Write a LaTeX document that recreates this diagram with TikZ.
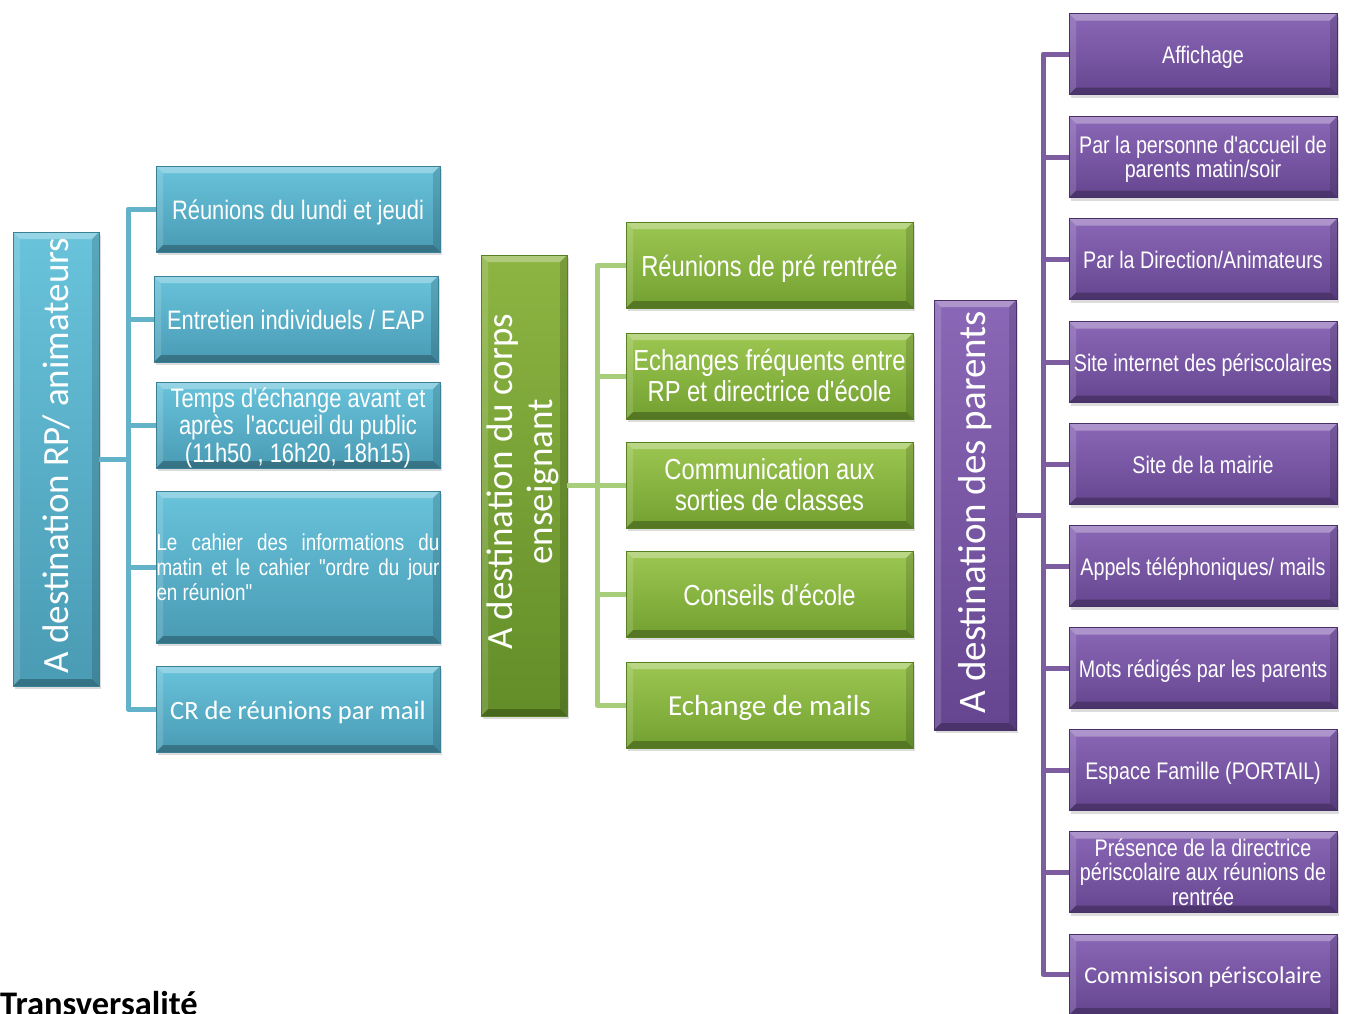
\documentclass[tikz,border=0pt]{standalone}
\usepackage{fontspec}
\setmainfont{Liberation Sans}
\newfontfamily\narfont[FakeStretch=0.82]{Liberation Sans}
\newfontfamily\calfont{Carlito}
\usetikzlibrary{shadows}
\definecolor{bT}{HTML}{68C3DB}
\definecolor{bB}{HTML}{4A9BB4}
\definecolor{bD}{HTML}{3A8097}
\definecolor{bC}{HTML}{62B2CA}
\definecolor{gT}{HTML}{9DC752}
\definecolor{gB}{HTML}{72A030}
\definecolor{gD}{HTML}{587F22}
\definecolor{gC}{HTML}{A8CE7C}
\definecolor{gmT}{HTML}{8DB543}
\definecolor{gmB}{HTML}{628D28}
\definecolor{pT}{HTML}{8B68B7}
\definecolor{pB}{HTML}{654590}
\definecolor{pD}{HTML}{4A3068}
\definecolor{pC}{HTML}{7C5EA0}
\tikzset{
  bev/.style={path picture={
    \fill[white,opacity=.30] (path picture bounding box.north west) -- (path picture bounding box.north east)
      -- ([shift={(-7pt,-7pt)}]path picture bounding box.north east) -- ([shift={(7pt,-7pt)}]path picture bounding box.north west) -- cycle;
    \fill[white,opacity=.14] (path picture bounding box.north west) -- ([shift={(7pt,-7pt)}]path picture bounding box.north west)
      -- ([shift={(7pt,7pt)}]path picture bounding box.south west) -- (path picture bounding box.south west) -- cycle;
    \fill[black,opacity=.14] (path picture bounding box.north east) -- ([shift={(-7pt,-7pt)}]path picture bounding box.north east)
      -- ([shift={(-7pt,7pt)}]path picture bounding box.south east) -- (path picture bounding box.south east) -- cycle;
    \fill[black,opacity=.26] (path picture bounding box.south west) -- (path picture bounding box.south east)
      -- ([shift={(-7pt,7pt)}]path picture bounding box.south east) -- ([shift={(7pt,7pt)}]path picture bounding box.south west) -- cycle;
  }},
  vfix/.style 2 args={execute at begin node={\rule{0pt}{#1pt}}, execute at end node={\rule[-#2pt]{0pt}{0pt}}},
  basebox/.style={rectangle, inner sep=0pt, line width=0.7pt, bev, text=white, align=center,
    drop shadow={shadow xshift=1.5pt, shadow yshift=-3pt, opacity=0.28}},
  mainbox/.style={execute at begin node={}, execute at end node={}},
  bbox/.style={basebox, top color=bT, bottom color=bB, draw=bD, minimum width=284pt, minimum height=86pt,
    font=\narfont\fontsize{26.7}{27.8}\selectfont, vfix={28}{6.9}},
  gbox/.style={basebox, top color=gT, bottom color=gB, draw=gD, minimum width=287pt, minimum height=86pt,
    font=\narfont\fontsize{29}{31}\selectfont, vfix={30}{7.2}},
  pbox/.style={basebox, top color=pT, bottom color=pB, draw=pD, minimum width=268pt, minimum height=81pt,
    font=\narfont\fontsize{24}{24.5}\selectfont, vfix={25}{5.8}},
  bcon/.style={draw=bC, line width=5pt, line join=round},
  gcon/.style={draw=gC, line width=5pt, line join=round},
  pcon/.style={draw=pC, line width=5pt, line join=round},
}
\begin{document}
\begin{tikzpicture}[x=1pt,y=-1pt]
\useasboundingbox (0,0) rectangle (1347,1013);

% ---------- blue column ----------
\node[bbox, mainbox, minimum width=86pt, minimum height=454pt] (bm) at (56,459)
  {\rotatebox{90}{\calfont\fontsize{37}{40}\selectfont A destination RP/ animateurs}};
\node[bbox] (b1) at (298,209) {Réunions du lundi et jeudi};
\node[bbox] (b2) at (296,319) {Entretien individuels / EAP};
\node[bbox, mainbox, text depth=0pt] (b3) at (298,425) {Temps d'échange avant et\\après\ \ l'accueil du public\\(11h50 , 16h20, 18h15)};
\node[bbox, mainbox, minimum height=152pt, font=\narfont\fontsize{23}{25}\selectfont] (b4) at (298,567)
  {\parbox{283pt}{\makebox[283pt][s]{Le cahier des informations du}\\\makebox[283pt][s]{matin et le cahier "ordre du jour}\\en réunion"}};
\node[bbox, font=\calfont\fontsize{26.5}{28}\selectfont, vfix={26.5}{7.5}] (b5) at (298,709) {CR de réunions par mail};
\coordinate (bt) at (128,459);
\foreach \i in {1,...,5} \draw[bcon] (bm.east) -- (bt) |- (b\i.west);

% ---------- green column ----------
\node[gbox, mainbox, top color=gmT, bottom color=gmB, minimum width=86pt, minimum height=461pt] (gm) at (524,485.5)
  {\rotatebox{90}{\calfont\fontsize{37}{40}\selectfont\begin{tabular}{@{}c@{}}A destination du corps\\enseignant\end{tabular}}};
\node[gbox] (g1) at (769.5,265) {Réunions de pré rentrée};
\node[gbox, mainbox] (g2) at (769.5,376) {\rule{0pt}{27.5pt}Echanges fréquents entre\\RP et directrice d'école};
\node[gbox, mainbox] (g3) at (769.5,485) {\rule{0pt}{27.5pt}Communication aux\\sorties de classes};
\node[gbox] (g4) at (769.5,594) {Conseils d'école};
\node[gbox, font=\calfont\fontsize{29}{31}\selectfont, vfix={29}{8.4}] (g5) at (769.5,705) {Echange de mails};
\coordinate (gt) at (597,485.5);
\foreach \i in {1,...,5} \draw[gcon] (gm.east) -- (gt) |- (g\i.west);

% ---------- purple column ----------
\node[pbox, mainbox, minimum width=82pt, minimum height=430pt] (pm) at (975,515)
  {\rotatebox{90}{\calfont\fontsize{39}{42}\selectfont A destination des parents}};
\node[pbox] (p1) at (1203,54) {Affichage};
\node[pbox, mainbox, text depth=0pt] (p2) at (1203,157) {Par la personne d'accueil de\\parents matin/soir};
\node[pbox] (p3) at (1203,259) {Par la Direction/Animateurs};
\node[pbox] (p4) at (1203,362) {Site internet des périscolaires};
\node[pbox] (p5) at (1203,464) {Site de la mairie};
\node[pbox] (p6) at (1203,566) {Appels téléphoniques/ mails};
\node[pbox] (p7) at (1203,668) {Mots rédigés par les parents};
\node[pbox] (p8) at (1203,770) {Espace Famille (PORTAIL)};
\node[pbox, mainbox] (p9) at (1203,872) {\rule{0pt}{23.5pt}Présence de la directrice\\périscolaire aux réunions de\\rentrée};
\node[pbox, font=\calfont\fontsize{24}{25}\selectfont, vfix={24}{6.6}] (p10) at (1203,974.5) {Commisison périscolaire};
\coordinate (pt) at (1043,515);
\foreach \i in {1,...,10} \draw[pcon] (pm.east) -- (pt) |- (p\i.west);

% ---------- footer ----------
\node[anchor=base west, inner sep=0pt, font=\calfont\bfseries\fontsize{34.5}{36}\selectfont] (tr) at (0,1015) {Transversalité};
\end{tikzpicture}
\end{document}
